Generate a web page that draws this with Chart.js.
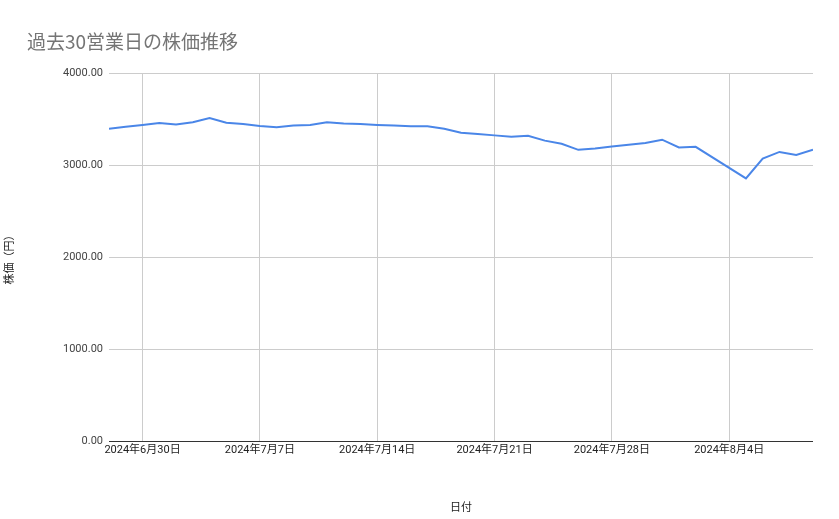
<!DOCTYPE html>
<html>
<head>
<meta charset="utf-8">
<script src="https://cdn.jsdelivr.net/npm/chart.js@4/dist/chart.umd.min.js"></script>
<style>
  body { margin: 0; background: #fff; }
  #wrap { position: relative; width: 839px; height: 519px; }
  #title { position: absolute; left: 27px; top: 27px; font: 19px "Noto Sans CJK JP", Roboto, sans-serif; color: #757575; }
</style>
</head>
<body>
<div id="wrap">
  <div id="title">過去30営業日の株価推移</div>
  <canvas id="chart" width="839" height="519"></canvas>
</div>
<script>
const dates = [
  "2024-06-28","2024-06-29","2024-06-30","2024-07-01","2024-07-02","2024-07-03","2024-07-04",
  "2024-07-05","2024-07-06","2024-07-07","2024-07-08","2024-07-09","2024-07-10","2024-07-11",
  "2024-07-12","2024-07-13","2024-07-14","2024-07-15","2024-07-16","2024-07-17","2024-07-18",
  "2024-07-19","2024-07-20","2024-07-21","2024-07-22","2024-07-23","2024-07-24","2024-07-25",
  "2024-07-26","2024-07-27","2024-07-28","2024-07-29","2024-07-30","2024-07-31","2024-08-01",
  "2024-08-02","2024-08-05","2024-08-06","2024-08-07","2024-08-08","2024-08-09"
];
const prices = [
  3395, 3415, 3435, 3457, 3440, 3465, 3510, 3460, 3445, 3425,
  3410, 3430, 3435, 3465, 3450, 3445, 3435, 3428, 3420, 3422,
  3395, 3350, 3338, 3322, 3308, 3318, 3265, 3230, 3165, 3180,
  3200, 3220, 3240, 3275, 3190, 3198, 2855, 3070, 3142, 3108, 3165
];
const tickDates = ["2024-06-30","2024-07-07","2024-07-14","2024-07-21","2024-07-28","2024-08-04"];

const base = Date.UTC(2024, 5, 28);
const dayIndex = s => { const [y, m, d] = s.split("-").map(Number); return (Date.UTC(y, m - 1, d) - base) / 86400000; };
const jpLabel = s => { const [y, m, d] = s.split("-").map(Number); return y + "年" + m + "月" + d + "日"; };
const tickIdx = tickDates.map(dayIndex);

const font = { family: "Roboto, 'Noto Sans CJK JP', sans-serif", size: 11 };

new Chart(document.getElementById("chart"), {
  type: "line",
  data: {
    datasets: [{
      data: dates.map((d, i) => ({ x: dayIndex(d), y: prices[i] })),
      borderColor: "#4a86e8",
      borderWidth: 2,
      pointRadius: 0,
      tension: 0,
      fill: false
    }]
  },
  options: {
    responsive: false,
    animation: false,
    layout: { padding: { top: 73, right: 26, left: 0, bottom: 0 } },
    plugins: { legend: { display: false }, tooltip: { enabled: false } },
    scales: {
      x: {
        type: "linear",
        min: 0,
        max: dayIndex("2024-08-09"),
        afterFit: s => { s.height = 78; },
        afterBuildTicks: s => { s.ticks = tickIdx.map(v => ({ value: v })); },
        ticks: {
          autoSkip: false, maxRotation: 0, color: "#222", font,
          callback: v => jpLabel(tickDates[tickIdx.indexOf(v)] || "")
        },
        grid: { color: "#cccccc", drawTicks: false },
        border: { display: false },
        title: { display: true, text: "日付", color: "#222", font, padding: { top: 18 } }
      },
      y: {
        min: 0, max: 4000,
        afterFit: s => { s.width = 109; },
        ticks: { stepSize: 1000, color: "#444", font, padding: 6, callback: v => v.toFixed(2) },
        grid: { color: ctx => ctx.tick.value === 0 ? "#333" : "#cccccc", drawTicks: false },
        border: { display: false },
        title: { display: true, text: "株価（円）", color: "#222", font }
      }
    }
  }
});
</script>
</body>
</html>
